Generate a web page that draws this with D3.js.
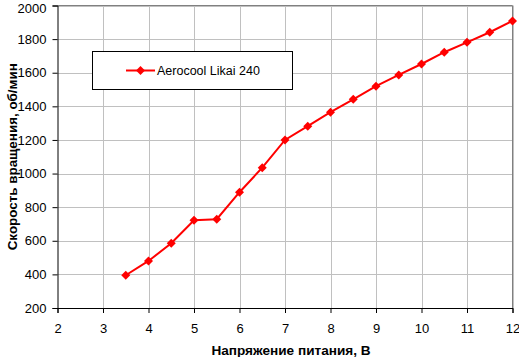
<!DOCTYPE html>
<html><head><meta charset="utf-8">
<script src="https://cdn.jsdelivr.net/npm/d3@7"></script>
<style>body{margin:0;background:#fff}svg{display:block}text{font-family:"Liberation Sans",Arial,sans-serif}</style>
</head><body><svg id="c" width="519" height="357"></svg>
<script>
const voltages = [3.5,4,4.5,5,5.5,6,6.5,7,7.5,8,8.5,9,9.5,10,10.5,11,11.5,12];
const rpm = [395,480,585,722,728,889,1035,1200,1282,1365,1442,1520,1587,1652,1722,1781,1841,1908];
const xTicks = [2,3,4,5,6,7,8,9,10,11,12];
const yTicks = [200,400,600,800,1000,1200,1400,1600,1800,2000];
const seriesName = "Aerocool Likai 240";
const xTitle = "Напряжение питания, В";
const yTitle = "Скорость вращения, об/мин";

const svg = d3.select("#c");
const L=57.5,R=512.5,T=5.5,B=308;
const x = d3.scaleLinear().domain([2,12]).range([L,R]);
const y = d3.scaleLinear().domain([200,2000]).range([B,T]);

// grid
svg.append("g").selectAll("line").data(xTicks.slice(1)).join("line")
  .attr("x1",d=>Math.round(x(d))+0.5).attr("x2",d=>Math.round(x(d))+0.5).attr("y1",T).attr("y2",B)
  .attr("stroke","#c0c0c0");
svg.append("g").selectAll("line").data(yTicks.slice(1)).join("line")
  .attr("y1",d=>Math.round(y(d))+0.5).attr("y2",d=>Math.round(y(d))+0.5).attr("x1",L).attr("x2",R)
  .attr("stroke","#c0c0c0");
// plot border top/right
svg.append("path").attr("d",`M${L},${T}H${R}V${B}`).attr("fill","none").attr("stroke","#808080");

const xAxis = svg.append("g").attr("transform",`translate(0,${B})`)
  .call(d3.axisBottom(x).tickValues(xTicks).tickSize(5).tickPadding(11).tickFormat(d3.format("d")));
const yAxis = svg.append("g").attr("transform",`translate(${L},0)`)
  .call(d3.axisLeft(y).tickValues(yTicks).tickSize(5).tickPadding(6).tickFormat(d3.format("d")));
[xAxis,yAxis].forEach(a=>{
  a.select(".domain").attr("stroke","#000");
  a.selectAll(".tick line").attr("stroke","#000");
  a.selectAll("text").attr("font-size","13px").attr("fill","#000").attr("font-family",'"Liberation Sans",Arial,sans-serif');
});
// keep the top label inside the picture
yAxis.selectAll(".tick").filter(d=>d===2000).select("text").attr("y",2.5);

const data = voltages.map((v,i)=>[v,rpm[i]]);
svg.append("path").datum(data)
  .attr("d",d3.line().x(d=>x(d[0])).y(d=>y(d[1])))
  .attr("fill","none").attr("stroke","#ff0000").attr("stroke-width",2);
const diamond = d3.symbol().type(d3.symbolDiamond2).size(52);
svg.append("g").selectAll("path").data(data).join("path")
  .attr("transform",d=>`translate(${x(d[0])},${y(d[1])})`)
  .attr("d",diamond).attr("fill","#ff0000");

// legend
svg.append("rect").attr("x",92.5).attr("y",51.5).attr("width",200).attr("height",38)
  .attr("fill","#fff").attr("stroke","#000");
svg.append("line").attr("x1",126).attr("x2",155).attr("y1",70.5).attr("y2",70.5).attr("stroke","#ff0000").attr("stroke-width",2);
svg.append("path").attr("transform","translate(140.5,70.5)").attr("d",diamond).attr("fill","#ff0000");
svg.append("text").attr("x",157).attr("y",75).attr("font-size","12.5px").text(seriesName);

svg.append("text").attr("x",291).attr("y",355).attr("text-anchor","middle")
  .attr("font-size","13.6px").attr("font-weight","bold").text(xTitle);
svg.append("text").attr("transform",`translate(17,${(T+B)/2}) rotate(-90)`).attr("text-anchor","middle")
  .attr("font-size","13.4px").attr("font-weight","bold").text(yTitle);
</script></body></html>
